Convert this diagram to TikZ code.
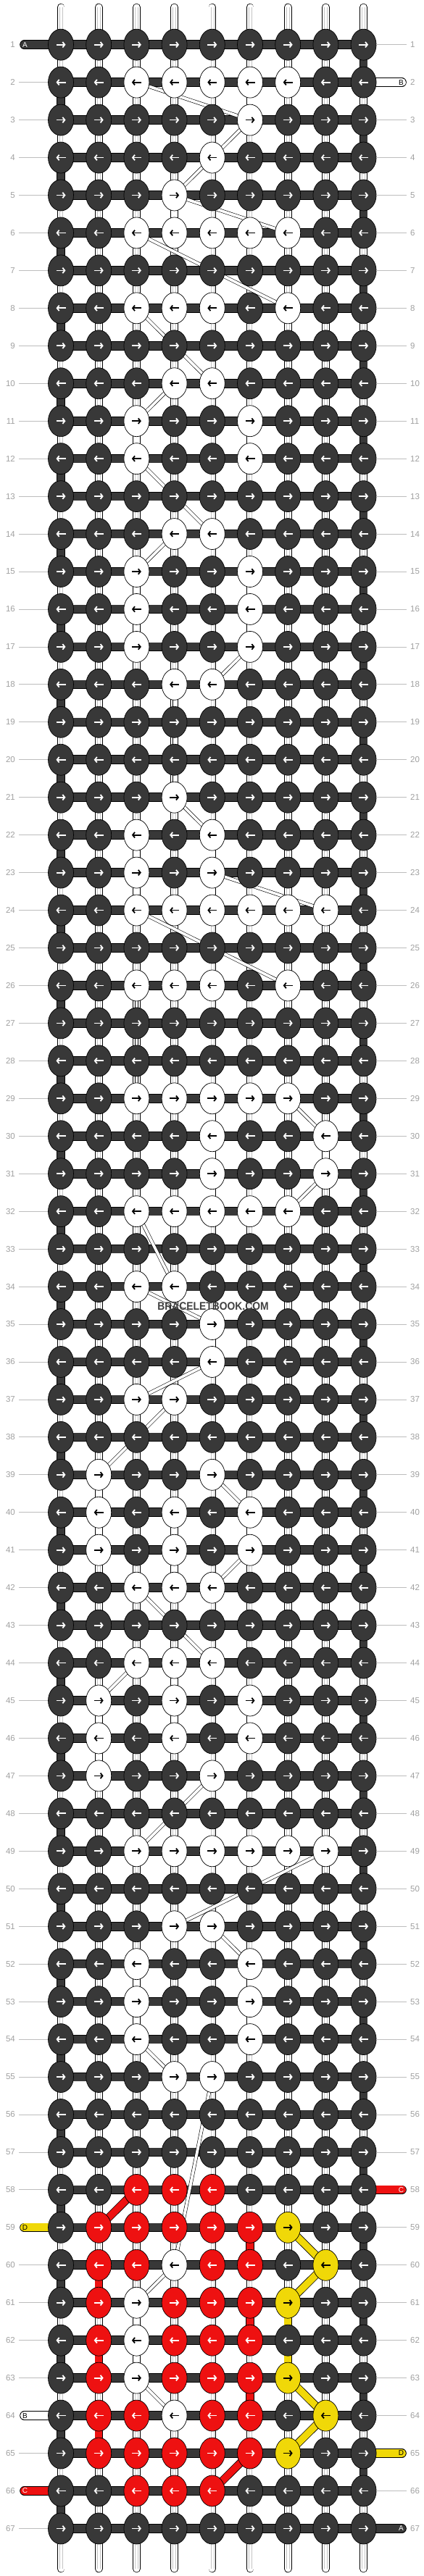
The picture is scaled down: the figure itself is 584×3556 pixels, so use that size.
\documentclass[tikz,border=0pt]{standalone}
\usepackage{fontspec}
\setmainfont{Liberation Sans}
\usepackage{tikz}
\usetikzlibrary{shapes.geometric, arrows.meta}
\definecolor{knotdark}{HTML}{383838}
\definecolor{knotred}{HTML}{EE1111}
\definecolor{knotyellow}{HTML}{F0D808}
\definecolor{rowgray}{HTML}{A0A0A0}
\definecolor{strandgray}{HTML}{C4C4C4}
\definecolor{markgray}{HTML}{404040}
\pgfdeclarelayer{threads}
\pgfsetlayers{threads,main}
\tikzstyle{knot} = [ellipse, draw=black, line width=0.7pt, minimum width=35pt, minimum height=43pt, inner sep=0pt]
\tikzstyle{knotd} = [knot, fill=knotdark]
\tikzstyle{knotw} = [knot, fill=white]
\tikzstyle{knotr} = [knot, fill=knotred]
\tikzstyle{knoty} = [knot, fill=knotyellow]
\tikzstyle{arrd} = [draw=white]
\tikzstyle{arrw} = [draw=black]
\tikzstyle{arrr} = [draw=white]
\tikzstyle{arry} = [draw=black]
\tikzstyle{knotarrow} = [line width=1.8pt]
\tikzstyle{dirr} = [-{Straight Barb[length=3pt,width=7.5pt]}]
\tikzstyle{dirl} = [{Straight Barb[length=3pt,width=7.5pt]}-]
\tikzstyle{warp} = [line width=0.8pt, double=white, double distance=9pt, line cap=round]
\tikzstyle{warpline} = [line width=0.6pt, draw=strandgray]
\tikzstyle{weft} = [line width=0.8pt, double=knotdark, double distance=11pt]
\tikzstyle{turn} = [line width=0.8pt, double=knotdark, double distance=10pt]
\tikzstyle{plainseg} = [line width=0.8pt, double=white, double distance=9pt]
\tikzstyle{bstrand} = [line width=0.6pt, double=white, double distance=3.8pt]
\tikzstyle{cstrand} = [line width=0.8pt, double=knotred, double distance=9.5pt]
\tikzstyle{dstrand} = [line width=0.8pt, double=knotyellow, double distance=9.5pt]
\tikzstyle{tag} = [line width=0.8pt, double distance=11pt, line cap=round]
\tikzstyle{taglabel} = [font=\fontsize{10pt}{10pt}\selectfont, inner sep=0pt]
\tikzstyle{rownum} = [font=\fontsize{11.5pt}{12pt}\selectfont, text=rowgray, inner sep=2pt]
\tikzstyle{rowline} = [draw=rowgray!70, line width=0.8pt]

\begin{document}
\begin{tikzpicture}[x=1pt, y=-1pt]
\useasboundingbox (0,0) rectangle (584,3556);

% knots, row by row (r = knotted to the right, l = to the left)
\foreach \row/\dir/\pat in {
  1/r/{d,d,d,d,d,d,d,d,d}, 2/l/{d,d,w,w,w,w,w,d,d}, 3/r/{d,d,d,d,d,w,d,d,d},
  4/l/{d,d,d,d,w,d,d,d,d}, 5/r/{d,d,d,w,d,d,d,d,d}, 6/l/{d,d,w,w,w,w,w,d,d},
  7/r/{d,d,d,d,d,d,d,d,d}, 8/l/{d,d,w,w,w,d,w,d,d}, 9/r/{d,d,d,d,d,d,d,d,d},
  10/l/{d,d,d,w,w,d,d,d,d}, 11/r/{d,d,w,d,d,w,d,d,d}, 12/l/{d,d,w,d,d,w,d,d,d},
  13/r/{d,d,d,d,d,d,d,d,d}, 14/l/{d,d,d,w,w,d,d,d,d}, 15/r/{d,d,w,d,d,w,d,d,d},
  16/l/{d,d,w,d,d,w,d,d,d}, 17/r/{d,d,w,d,d,w,d,d,d}, 18/l/{d,d,d,w,w,d,d,d,d},
  19/r/{d,d,d,d,d,d,d,d,d}, 20/l/{d,d,d,d,d,d,d,d,d}, 21/r/{d,d,d,w,d,d,d,d,d},
  22/l/{d,d,w,d,w,d,d,d,d}, 23/r/{d,d,w,d,w,d,d,d,d}, 24/l/{d,d,w,w,w,w,w,w,d},
  25/r/{d,d,d,d,d,d,d,d,d}, 26/l/{d,d,w,w,w,d,w,d,d}, 27/r/{d,d,d,d,d,d,d,d,d},
  28/l/{d,d,d,d,d,d,d,d,d}, 29/r/{d,d,w,w,w,w,w,d,d}, 30/l/{d,d,d,d,w,d,d,w,d},
  31/r/{d,d,d,d,w,d,d,w,d}, 32/l/{d,d,w,w,w,w,w,d,d}, 33/r/{d,d,d,d,d,d,d,d,d},
  34/l/{d,d,w,w,d,d,d,d,d}, 35/r/{d,d,d,d,w,d,d,d,d}, 36/l/{d,d,d,d,w,d,d,d,d},
  37/r/{d,d,w,w,d,d,d,d,d}, 38/l/{d,d,d,d,d,d,d,d,d}, 39/r/{d,w,d,d,w,d,d,d,d},
  40/l/{d,w,d,w,d,w,d,d,d}, 41/r/{d,w,d,w,d,w,d,d,d}, 42/l/{d,d,w,w,w,d,d,d,d},
  43/r/{d,d,d,d,d,d,d,d,d}, 44/l/{d,d,w,w,w,d,d,d,d}, 45/r/{d,w,d,w,d,w,d,d,d},
  46/l/{d,w,d,w,d,w,d,d,d}, 47/r/{d,w,d,d,w,d,d,d,d}, 48/l/{d,d,d,d,d,d,d,d,d},
  49/r/{d,d,w,w,w,w,w,w,d}, 50/l/{d,d,d,d,d,d,d,d,d}, 51/r/{d,d,d,w,w,d,d,d,d},
  52/l/{d,d,w,d,d,w,d,d,d}, 53/r/{d,d,w,d,d,w,d,d,d}, 54/l/{d,d,w,d,d,w,d,d,d},
  55/r/{d,d,d,w,w,d,d,d,d}, 56/l/{d,d,d,d,d,d,d,d,d}, 57/r/{d,d,d,d,d,d,d,d,d},
  58/l/{d,d,r,r,r,d,d,d,d}, 59/r/{d,r,r,r,r,r,y,d,d}, 60/l/{d,r,r,w,r,r,d,y,d},
  61/r/{d,r,w,r,r,r,y,d,d}, 62/l/{d,r,w,r,r,r,d,d,d}, 63/r/{d,r,w,r,r,r,y,d,d},
  64/l/{d,r,r,w,r,r,d,y,d}, 65/r/{d,r,r,r,r,r,y,d,d}, 66/l/{d,d,r,r,r,d,d,d,d},
  67/r/{d,d,d,d,d,d,d,d,d}} {
  \foreach \kc [count=\col] in \pat {
    \node[knot\kc] (k-\row-\col) at ({84+52.2*(\col-1)},{61.7+51.95*(\row-1)}) {};
    \draw[knotarrow, dir\dir, arr\kc] ([xshift=-6.5pt]k-\row-\col.center) -- ([xshift=6.5pt]k-\row-\col.center);
  }
}

\begin{pgfonlayer}{threads}
  % white warp threads
  \foreach \col in {1,...,9} {
    \coordinate (wt-\col) at ({84+52.2*(\col-1)},10);
    \coordinate (wb-\col) at ({84+52.2*(\col-1)},3546);
    \draw[warp] (wt-\col) -- (wb-\col);
    \draw[warpline] ([xshift=-2pt]wt-\col) -- ([xshift=-2pt]wb-\col);
    \draw[warpline] ([xshift=2pt]wt-\col) -- ([xshift=2pt]wb-\col);
  }
  % thread A turning at the edges
  \foreach \row in {1,...,66} {
    \pgfmathtruncatemacro\nxt{\row+1}
    \pgfmathtruncatemacro\edge{isodd(\row) ? 9 : 1}
    \draw[turn] (k-\row-\edge.center) -- (k-\nxt-\edge.center);
  }
  % white between white knots
  \foreach \row/\col in {2/6, 5/4, 11/3, 11/6, 15/3, 15/6, 16/3, 16/6, 22/3, 22/5, 23/3, 23/5,
      29/5, 30/5, 30/8, 31/5, 35/5, 39/2, 40/2, 40/4, 40/6, 41/4, 44/4, 45/2, 45/4, 45/6,
      46/2, 52/3, 52/6, 53/3, 53/6, 61/3, 62/3} {
    \pgfmathtruncatemacro\nxt{\row+1}
    \draw[plainseg] (k-\row-\col.center) -- (k-\nxt-\col.center);
  }
  % rows of thread A
  \foreach \row in {1,...,67}
    \draw[weft] (k-\row-1.center) -- (k-\row-9.center);
  % tags
  \foreach \row/\lab/\fillc/\textc in {1/A/knotdark/white, 59/D/knotyellow/black, 64/B/white/black, 66/C/knotred/white} {
    \coordinate (tl-\row) at (33.5,{61.7+51.95*(\row-1)});
    \draw[tag, double=\fillc] (tl-\row) -- (k-\row-1.center);
    \node[taglabel, text=\textc] (tln-\row) at ([xshift=1pt]tl-\row) {\lab};
  }
  \foreach \row/\lab/\fillc/\textc in {2/B/white/black, 58/C/knotred/white, 65/D/knotyellow/black, 67/A/knotdark/white} {
    \coordinate (tr-\row) at (554.5,{61.7+51.95*(\row-1)});
    \draw[tag, double=\fillc] (tr-\row) -- (k-\row-9.center);
    \node[taglabel, text=\textc] (trn-\row) at ([xshift=-1pt]tr-\row) {\lab};
  }
  % thread B between rows
  \foreach \ra/\ca/\rb/\cb in {2/3/3/6, 3/6/4/5, 4/5/5/4, 5/4/6/7, 6/3/8/7, 8/3/10/5, 10/4/11/3,
      12/3/14/5, 14/4/15/3, 17/6/18/5, 18/4/21/4, 21/4/22/5, 23/5/24/8, 24/3/26/7, 26/3/29/3,
      29/7/30/8, 31/8/32/7, 32/3/34/4, 34/3/35/5, 36/5/37/3, 37/4/39/2, 39/5/40/6, 41/6/42/5,
      42/3/44/5, 44/3/45/2, 47/5/49/3, 49/8/51/4, 51/5/52/6, 54/3/55/4, 55/5/60/4, 60/4/61/3,
      63/3/64/4}
    \draw[bstrand] (k-\ra-\ca.center) -- (k-\rb-\cb.center);
  % thread C (red)
  \draw[cstrand] (k-58-3.center) -- (k-59-2.center);
  \foreach \row/\col in {59/6, 60/2, 61/6, 62/2, 63/6, 64/2} {
    \pgfmathtruncatemacro\nxt{\row+1}
    \draw[cstrand] (k-\row-\col.center) -- (k-\nxt-\col.center);
  }
  \draw[cstrand] (k-65-6.center) -- (k-66-5.center);
  % thread D (yellow)
  \draw[dstrand] (k-59-7.center) -- (k-60-8.center) -- (k-61-7.center);
  \draw[dstrand] (k-61-7.center) -- (k-63-7.center);
  \draw[dstrand] (k-63-7.center) -- (k-64-8.center) -- (k-65-7.center);
\end{pgfonlayer}

% row numbers
\foreach \row in {1,...,67} {
  \node[rownum, anchor=east] (ll-\row) at (23,{61.7+51.95*(\row-1)}) {\row};
  \node[rownum, anchor=west] (lr-\row) at (564,{61.7+51.95*(\row-1)}) {\row};
}
\foreach \row in {2,3,...,58,60,61,62,63,65,67}
  \draw[rowline, shorten <=3pt] (ll-\row) -- (k-\row-1);
\foreach \row in {1,3,4,...,57,59,60,61,62,63,64,66}
  \draw[rowline, shorten >=3pt] (k-\row-9) -- (lr-\row);

\node[font=\bfseries\fontsize{15.4pt}{16pt}\selectfont, text=markgray] (mark) at (294,1803.5) {\scalebox{0.9}[1]{BRACELETBOOK.COM}};
\end{tikzpicture}
\end{document}
